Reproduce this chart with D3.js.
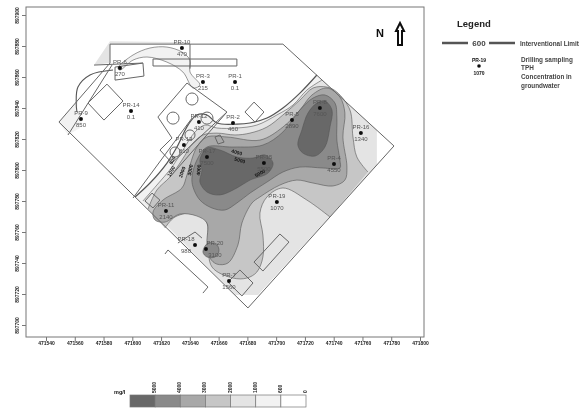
<!DOCTYPE html>
<html lang="en">
	<head>
		<meta charset="UTF-8" />
		<title>TPH concentration in groundwater</title>
		<script src="https://d3js.org/d3.v7.min.js"></script>
		<style>
			body {
				margin: 0;
				background: #fff;
			}
			svg {
				display: block;
				font-family: 'Liberation Sans', Arial, sans-serif;
			}
			.axis path,
			.axis line {
				stroke: #777;
			}
			.axis text {
				font-size: 5px;
				font-weight: bold;
				fill: #222;
			}
			.site {
				fill: none;
				stroke: #666;
				stroke-width: 1px;
			}
			.contour {
				stroke-width: 0.6px;
			}
			.well-name,
			.well-value {
				font-size: 6px;
				fill: #555;
				text-anchor: middle;
			}
			.contour-label {
				font-size: 5px;
				font-weight: bold;
				fill: #111;
				text-anchor: middle;
			}
			.legend {
				font-size: 6.4px;
				font-weight: bold;
				fill: #444;
			}
		</style>
	</head>
	<body>
		<svg width="582" height="409"></svg>
		<script>
			// everything in metres east / north of the grid origin
			const eastTicks = [471540, 471560, 471580, 471600, 471620, 471640, 471660, 471680, 471700, 471720, 471740, 471760, 471780, 471800];
			const northTicks = [897700, 897720, 897740, 897760, 897780, 897800, 897820, 897840, 897860, 897880, 897900];

			const levels = [5000, 4000, 3000, 2000, 1000, 600, 0];
			const levelBreaks = [600, 1000, 2000, 3000, 4000, 5000];
			const levelGreys = ['#ffffff', '#f2f2f2', '#e4e4e4', '#c6c6c6', '#a8a8a8', '#8a8a8a', '#686868'];

			const contour600 = [[188.3,161.3],[176.5,149.6],[164.7,140],[153.6,133.5],[141.8,130.3],[132.7,129.6],[118.8,130.3],[111.9,135.5],[104.9,135.5],[98.7,129],[91,114.8],[84.1,104.5],[72.3,91.6],[61.9,82.6]];
			const contour1000 = [[191.8,158],[181.4,151.6],[171.7,141.9],[160.5,135.5],[146.6,129],[132.7,127.1],[118.8,127.1],[110.5,129],[103.6,124.5],[95.2,112.9],[87.6,101.9],[77.1,90.3],[67.4,80]];
			const gridEdge = [[131.4,19.4],[147.3,19.4],[230,103.2],[230,125.8]];
			const contour2000North = [[223.8,98.7],[216.1,108.4],[213.4,121.3],[211.3,138.7],[202.2,150.3],[195.3,153.5],[185.6,152.9],[176.5,145.1],[164.7,135.5],[153.6,127.7],[141.8,123.8],[131.4,122.6],[118.8,123.8],[109.1,122.6],[102.2,117.4],[94.5,106.4],[86.2,95.5],[77.1,87.1],[70.9,74.8]];
			const contour2000South = [[82.7,62.6],[89.7,69.7],[104.9,72.2],[111.9,65.8],[112.6,54.8],[115.4,37.4],[130,30.3],[139.7,30.3],[146.6,34.2],[150.8,43.9],[150.8,58],[148.7,72.2],[153.6,82.6],[164.7,88.4],[181.4,80.6],[197.4,69.7]];
			const contour3000 = [[195.3,152.9],[204.3,147.1],[207.8,136.7],[206.4,121.3],[209.2,101.9],[207.8,93.5],[199.5,89.7],[185.6,91.6],[174.4,93.5],[162.6,90.3],[148.7,82.6],[143.2,78.7],[136.2,65.8],[133.4,51.6],[126.5,40],[118.8,39.3],[114,43.2],[111.9,52.9],[111.9,65.8],[104.9,70.3],[93.1,71.6],[82.7,66.4],[75.8,67.7],[74.4,72.9],[81.3,80.6],[94.5,88.4],[98,96.8],[104.9,114.8],[111.9,121.3],[125.8,121.3],[148.7,119.3],[164.7,127.7],[176.5,138.7],[184.9,148.4]];
			const contour4000 = [[193.9,148.4],[200.9,143.2],[202.2,134.2],[202.2,119.3],[204.3,106.4],[204.3,101.3],[192.5,101.3],[176.5,101.9],[164.7,98.7],[153.6,92.2],[141.8,85.1],[132.7,78.7],[124.4,74.2],[115.4,75.5],[107,80.6],[102.2,89],[101.5,95.5],[104.9,106.4],[111.9,114.8],[130,114.8],[150.8,116.1],[164.7,124.5],[176.5,138.7],[185.6,146.4]];
			const contour4000South = [[112.6,52.9],[118.8,51.6],[120.2,47.7],[117.5,43.9],[111.9,43.9],[109.1,47.1]];
			const contour5000East = [[188.3,143.2],[193.9,144.5],[198.8,138.7],[197.4,127.7],[193.9,114.8],[187,109],[178.6,110.9],[175.1,116.1],[177.9,125.8],[182.1,136.7]];
			const contour5000West = [[111.9,114.2],[120.9,112.9],[132.7,108.4],[143.9,107.7],[152.2,109.7],[157.8,104.5],[154.3,98],[141.8,93.5],[132.7,88.4],[120.9,83.9],[111.9,85.8],[107,92.2],[108.4,100],[107,106.4]];
			const ribbon600 = [[50,165.8],[60.5,174.2],[72.3,178.7],[84.1,179.3],[94.5,176.1],[100.1,170.9],[100.1,163.2],[107,154.8],[102.2,152.9],[95.2,163.2],[84.1,169.6],[70.2,172.9],[60.5,170.9],[51.4,164.5]];
			const limitWest = [[21.5,137.4],[21,143.2],[22.2,153.5],[30.6,161.3],[46.6,164.5]];
			const lobeWest = [[9,130.9],[22.2,145.1],[21.5,137.4],[25,130.9],[23.6,127.1],[15.3,122.6]];
			const yardNorth = [[44.5,183],[100.1,182.5],[100.1,181.2],[44.5,181.2],[44.5,169],[33.4,167.7]];

			const siteLines = [
				[[44.5,181.2],[164.7,181.2],[241.9,115.5],[140.4,11],[9,130.9],[44.5,169],[44.5,181.2]],
				[[15.3,122.6],[45.9,167.7]],
				[[33.4,167.7],[67.4,169]],
				[[60.5,81.9],[101.5,133.5]],
				[[125.8,137.4],[86.2,95.5]],
				[[100.1,181.2],[100.1,165.4]],
				[[98,156.1],[125.8,137.4],[87.6,104.5],[79.2,112.9],[87.6,120.6],[77.8,134.2],[98,156.1]],
				[[74.4,171.6],[132.7,171.6],[132.7,167.1],[74.4,167.1],[74.4,171.6]],
				[[48,166.4],[67.4,169],[68.1,160.6],[48,158],[48,166.4]],
				[[42.4,155.4],[53.5,144.5],[40.3,132.2],[29.2,143.2],[42.4,155.4]],
				[[144.6,143.8],[151.5,137.4],[145.3,130.9],[138.3,137.4],[144.6,143.8]],
				[[162.6,58.7],[168.9,53.5],[150.8,34.8],[144.6,40.6],[162.6,58.7]],
				[[134.8,35.5],[143.9,27.1],[136.2,18.7],[126.5,27.7],[134.8,35.5]],
				[[73.7,85.1],[79.2,80.6],[74.4,75.5],[68.8,80],[73.7,85.1]],
				[[117.5,121.3],[121,122.6],[123.8,118],[119.6,116.8],[117.5,121.3]],
				[[91.7,52.9],[103.6,60],[108.4,56.1]],
				[[82.7,45.8],[84.8,48.4],[112.6,24.5],[109.1,20.6]]
			];
			const tankEast = [101.5, 88.3, 111.9, 100.1, 89.7];
			const tankNorth = [145.8, 133.5, 133.5, 122.6, 111.6];
			const tankRadius = [4.2, 4.2, 4.2, 3.5, 3.5];

			const wellNames = ['PR-10', 'PR-6', 'PR-3', 'PR-1', 'PR-14', 'PR-9', 'PR-12', 'PR-2', 'PR-5', 'PR-8', 'PR-16', 'PR-4', 'PR-15', 'PR-17', 'PR-13', 'PR-19', 'PR-11', 'PR-7', 'PR-18', 'PR-20'];
			const wellEast = [94.5, 51.4, 109.1, 131.4, 59.1, 24.3, 106.3, 130, 171, 190.4, 218.9, 200.2, 151.5, 111.9, 95.9, 160.5, 83.4, 127.2, 103.6, 111.2];
			const wellNorth = [178.7, 165.8, 156.7, 156.7, 138, 132.9, 130.9, 130.3, 132.2, 140, 123.8, 103.8, 104.5, 108.4, 116.1, 79.3, 73.5, 28.4, 51.6, 49];
			const wellTph = ['470', '270', '215', '0.1', '0.1', '850', '410', '460', '2890', '7600', '1340', '4550', '5500', '7500', '810', '1070', '2140', '1560', '980', '3100'];

			const labelLevels = [600, 1000, 2000, 3000, 4000, 4000, 5000, 5000];
			const labelEast = [87.6, 86.9, 94.5, 100.1, 106, 132.7, 134.8, 148.7];
			const labelNorth = [106.4, 99.3, 98.7, 100, 100, 111.6, 106.4, 98];
			const labelAngle = [-60, -60, -70, -80, -85, 15, 15, -30];

			const svg = d3.select('svg');

			const x = d3.scaleLinear().domain([0, 260]).range([46, 420]);
			const y = d3.scaleLinear().domain([0, 200]).range([325, 15]);
			const easting = d3.scaleLinear().domain([471540, 471800]).range([46, 420]);
			const northing = d3.scaleLinear().domain([897700, 897900]).range([325, 15]);
			const color = d3.scaleThreshold().domain(levelBreaks).range(levelGreys);

			const defs = svg.append('defs');
			// the source is a soft low res scan
			defs.append('filter').attr('id', 'soft').append('feGaussianBlur').attr('stdDeviation', 0.42);

			const chart = svg.append('g').attr('filter', 'url(#soft)');

			const straight = d3.line().x((d) => x(d[0])).y((d) => y(d[1]));
			const smooth = d3.line().x((d) => x(d[0])).y((d) => y(d[1])).curve(d3.curveCatmullRom.alpha(0.5));
			const smoothClosed = d3.line().x((d) => x(d[0])).y((d) => y(d[1])).curve(d3.curveCatmullRomClosed.alpha(0.5));
			const joined = (path) => path.replace('M', 'L');

			// filled bands, low to high
			function band(level, d, stroke) {
				chart.append('path').attr('class', 'contour').attr('fill', color(level)).attr('stroke', stroke ? '#555' : 'none').attr('d', d);
			}
			function edgeLine(points, width) {
				chart.append('path').attr('fill', 'none').attr('stroke', '#555').attr('stroke-width', width).attr('d', smooth(points));
			}

			band(1000, straight(yardNorth) + 'Z', false);
			band(600, straight(lobeWest) + 'Z', false);
			band(600, smoothClosed(ribbon600), true);
			band(600, smooth(contour600) + joined(straight(gridEdge)) + 'Z', false);
			band(1000, smooth(contour1000) + joined(straight(gridEdge)) + 'Z', false);
			band(2000, smooth(contour2000North) + joined(smooth(contour2000South)) + 'Z', false);
			edgeLine(contour600, 1.2);
			edgeLine(contour1000, 0.6);
			edgeLine(contour2000North, 0.6);
			edgeLine(contour2000South, 0.6);
			edgeLine(limitWest, 1.1);
			band(3000, smoothClosed(contour3000), true);
			band(4000, smoothClosed(contour4000), true);
			band(4000, smoothClosed(contour4000South), true);
			band(5000, smoothClosed(contour5000East), true);
			band(5000, smoothClosed(contour5000West), true);

			chart.append('g').selectAll('path').data(siteLines).enter().append('path').attr('class', 'site').attr('d', straight);
			chart.append('g').selectAll('circle').data(tankEast).enter().append('circle').attr('class', 'site')
				.attr('cx', (d) => x(d))
				.attr('cy', (d, i) => y(tankNorth[i]))
				.attr('r', (d, i) => x(tankRadius[i]) - x(0));

			// frame and axes
			chart.append('rect').attr('x', 26).attr('y', 7).attr('width', 398).attr('height', 330).attr('fill', 'none').attr('stroke', '#777');
			const xAxis = chart.append('g').attr('class', 'axis').attr('transform', 'translate(0,337)')
				.call(d3.axisBottom(easting).tickValues(eastTicks).tickSize(4).tickPadding(0).tickFormat(d3.format('d')));
			xAxis.select('.domain').remove();
			const yAxis = chart.append('g').attr('class', 'axis').attr('transform', 'translate(26,0)')
				.call(d3.axisLeft(northing).tickValues(northTicks).tickSize(4).tickFormat(d3.format('d')));
			yAxis.select('.domain').remove();
			yAxis.selectAll('text').attr('transform', 'rotate(-90)').attr('text-anchor', 'middle').attr('x', 0).attr('y', -7).attr('dy', 0);

			// contour labels
			chart.append('g').selectAll('text').data(labelLevels).enter().append('text').attr('class', 'contour-label')
				.attr('transform', (d, i) => `translate(${x(labelEast[i])},${y(labelNorth[i])}) rotate(${labelAngle[i]})`)
				.attr('dy', 2)
				.text((d) => d);

			// wells
			const wells = chart.append('g').selectAll('g').data(wellNames).enter().append('g')
				.attr('transform', (d, i) => `translate(${x(wellEast[i])},${y(wellNorth[i])})`);
			wells.append('circle').attr('r', 2).attr('fill', '#111');
			wells.append('text').attr('class', 'well-name').attr('y', -4).text((d) => d);
			wells.append('text').attr('class', 'well-value').attr('y', 8).text((d, i) => wellTph[i]);
			// the two crowded wells by PR-7 would print on top of each other
			wells.filter((d) => d === 'PR-18').selectAll('text').attr('x', -9);
			wells.filter((d) => d === 'PR-20').selectAll('text').attr('x', 9);

			// north arrow
			chart.append('text').attr('x', 376).attr('y', 37).attr('font-size', 11).attr('font-weight', 'bold').attr('fill', '#111').text('N');
			chart.append('path').attr('fill', '#fff').attr('stroke', '#111').attr('stroke-width', 2)
				.attr('d', 'M400 23L404 31H402V45H398V31H396Z');

			// legend
			const legend = chart.append('g');
			legend.append('text').attr('x', 457).attr('y', 27).attr('font-size', 9.5).attr('font-weight', 'bold').attr('fill', '#222').text('Legend');
			legend.append('path').attr('stroke', '#555').attr('stroke-width', 2.4).attr('d', 'M442 43H468M489 43H515');
			legend.append('text').attr('class', 'legend').attr('x', 479).attr('y', 45.5).attr('text-anchor', 'middle').style('font-size', '8px').text('600');
			legend.append('text').attr('class', 'legend').attr('x', 520).attr('y', 45.5).text('Interventional Limit');
			legend.append('text').attr('class', 'legend').attr('x', 479).attr('y', 61.5).attr('text-anchor', 'middle').style('font-size', '5px').style('fill', '#111').text('PR-19');
			legend.append('circle').attr('cx', 479).attr('cy', 66).attr('r', 1.8).attr('fill', '#111');
			legend.append('text').attr('class', 'legend').attr('x', 479).attr('y', 74.5).attr('text-anchor', 'middle').style('font-size', '5px').style('fill', '#111').text('1070');
			['Drilling sampling', 'TPH', 'Concentration in', 'groundwater'].forEach((t, i) => {
				legend.append('text').attr('class', 'legend').attr('x', 521).attr('y', 61.5 + i * 8.7).text(t);
			});

			// colour bar
			const bar = d3.scaleBand().domain(levels).range([130, 306]);
			const cells = chart.append('g');
			cells.selectAll('rect').data(levels).enter().append('rect')
				.attr('x', (d) => bar(d))
				.attr('y', 395)
				.attr('width', bar.bandwidth())
				.attr('height', 12)
				.attr('fill', (d) => color(d))
				.attr('stroke', '#777')
				.attr('stroke-width', 0.7);
			cells.selectAll('text').data(levels).enter().append('text')
				.attr('transform', (d) => `translate(${bar(d) + bar.bandwidth() - 1},393) rotate(-90)`)
				.attr('dy', 2)
				.attr('font-size', 5)
				.attr('font-weight', 'bold')
				.attr('fill', '#222')
				.text((d) => d);
			chart.append('text').attr('x', 114).attr('y', 394).attr('font-size', 5.5).attr('font-weight', 'bold').attr('fill', '#111').text('mg/l');
		</script>
	</body>
</html>
